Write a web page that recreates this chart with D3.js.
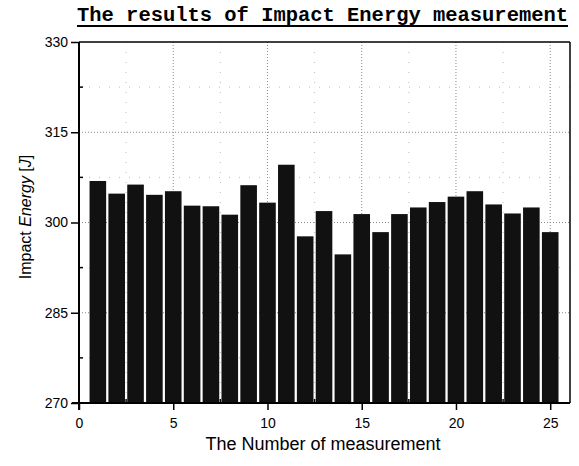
<!DOCTYPE html>
<html>
<head>
<meta charset="utf-8">
<script src="https://cdn.jsdelivr.net/npm/d3@7"></script>
<style>
  html, body { margin: 0; padding: 0; background: #fff; }
  svg { display: block; }
</style>
</head>
<body>
<svg id="chart" width="579" height="466"></svg>
<script>
// ---- data ----
const measurements = d3.range(1, 26);
const impactEnergy = [306.9, 304.8, 306.3, 304.6, 305.2, 302.8, 302.7, 301.3, 306.2, 303.3,
                      309.6, 297.7, 301.9, 294.7, 301.4, 298.4, 301.4, 302.5, 303.4, 304.3,
                      305.2, 303.0, 301.5, 302.5, 298.4];
const yTicks = [270, 285, 300, 315, 330];
const yMinorTicks = [277.5, 292.5, 307.5, 322.5];
const xTicks = [0, 5, 10, 15, 20, 25];
const xMinorTicks = [2.5, 7.5, 12.5, 17.5, 22.5];
const titleText = "The results of Impact Energy measurement";
const xTitle = "The Number of measurement";

// ---- layout ----
const svg = d3.select("#chart");
const pL = 79, pR = 570, pT = 42, pB = 403;

const x = d3.scaleLinear().domain([0, 26.05]).range([pL, pR]);
const y = d3.scaleLinear().domain([270, 330]).range([pB, pT]);

// grid (major)
const grid = svg.append("g");
grid.selectAll(".hg").data(yTicks.filter(t => t > 270 && t < 330)).join("line")
  .attr("x1", pL).attr("x2", pR)
  .attr("y1", d => y(d)).attr("y2", d => y(d))
  .attr("stroke", "#888").attr("stroke-width", 1).attr("stroke-dasharray", "1,2");
grid.selectAll(".vg").data(xTicks.filter(t => t > 0)).join("line")
  .attr("x1", d => x(d)).attr("x2", d => x(d))
  .attr("y1", pT).attr("y2", pB)
  .attr("stroke", "#888").attr("stroke-width", 1).attr("stroke-dasharray", "1,2");
// grid (minor)
grid.selectAll(".hm").data(yMinorTicks).join("line")
  .attr("x1", pL).attr("x2", pR)
  .attr("y1", d => y(d)).attr("y2", d => y(d))
  .attr("stroke", "#bbb").attr("stroke-width", 1).attr("stroke-dasharray", "1,9");
grid.selectAll(".vm").data(xMinorTicks).join("line")
  .attr("x1", d => x(d)).attr("x2", d => x(d))
  .attr("y1", pT).attr("y2", pB)
  .attr("stroke", "#bbb").attr("stroke-width", 1).attr("stroke-dasharray", "1,9");

// bars
const bw = 0.88;
svg.append("g").selectAll("rect").data(measurements).join("rect")
  .attr("x", (d) => x(d - bw / 2))
  .attr("width", x(bw) - x(0))
  .attr("y", (d, i) => y(impactEnergy[i]))
  .attr("height", (d, i) => y(270) - y(impactEnergy[i]))
  .attr("fill", "#111");

// frame top/right
svg.append("line").attr("x1", pL).attr("x2", pR).attr("y1", pT).attr("y2", pT)
  .attr("stroke", "#000").attr("stroke-width", 1.5);
svg.append("line").attr("x1", pR).attr("x2", pR).attr("y1", pT).attr("y2", pB)
  .attr("stroke", "#000").attr("stroke-width", 1.5);

// axes
const yAxis = d3.axisLeft(y).tickValues(yTicks).tickSize(8).tickPadding(3).tickFormat(d3.format("d"));
const gy = svg.append("g").attr("transform", `translate(${pL},0)`).call(yAxis);
const xAxis = d3.axisBottom(x).tickValues(xTicks).tickSize(7).tickPadding(8).tickFormat(d3.format("d"));
const gx = svg.append("g").attr("transform", `translate(0,${pB})`).call(xAxis);
[gy, gx].forEach(g => {
  g.select(".domain").remove();
  g.selectAll("line").attr("stroke", "#000").attr("stroke-width", 1.5);
  g.selectAll("text").attr("fill", "#000").style("font-family", "Arial, 'Liberation Sans', sans-serif").style("font-size", "14px");
});
// axis lines
svg.append("line").attr("x1", pL).attr("x2", pL).attr("y1", pT).attr("y2", pB + 7)
  .attr("stroke", "#000").attr("stroke-width", 2);
svg.append("line").attr("x1", pL - 7).attr("x2", pR).attr("y1", pB).attr("y2", pB)
  .attr("stroke", "#000").attr("stroke-width", 2);
// minor ticks (inward)
svg.append("g").selectAll("line").data(yMinorTicks).join("line")
  .attr("x1", pL).attr("x2", pL + 4).attr("y1", d => y(d)).attr("y2", d => y(d))
  .attr("stroke", "#000").attr("stroke-width", 1.5);
svg.append("g").selectAll("line").data(xMinorTicks).join("line")
  .attr("x1", d => x(d)).attr("x2", d => x(d)).attr("y1", pB).attr("y2", pB - 4)
  .attr("stroke", "#000").attr("stroke-width", 1.5);

// title
svg.append("text").attr("x", 77).attr("y", 21)
  .attr("textLength", 491).attr("lengthAdjust", "spacingAndGlyphs")
  .style("font-family", "'Liberation Mono', 'Courier New', monospace")
  .style("font-weight", "bold").style("font-size", "20px")
  .attr("fill", "#000").text(titleText);
svg.append("line").attr("x1", 77).attr("x2", 568).attr("y1", 26).attr("y2", 26)
  .attr("stroke", "#000").attr("stroke-width", 2);

// x title
svg.append("text").attr("x", 323).attr("y", 450).attr("text-anchor", "middle")
  .style("font-family", "Arial, 'Liberation Sans', sans-serif").style("font-size", "18px")
  .attr("fill", "#000").text(xTitle);

// y title
const yt = svg.append("text").attr("transform", "translate(31,217) rotate(-90)")
  .attr("text-anchor", "middle")
  .style("font-family", "Arial, 'Liberation Sans', sans-serif").style("font-size", "16px")
  .attr("fill", "#000");
yt.append("tspan").text("Impact ");
yt.append("tspan").style("font-style", "italic").text("Energy");
yt.append("tspan").text(" [");
yt.append("tspan").style("font-style", "italic").text("J");
yt.append("tspan").text("]");
</script>
</body>
</html>
